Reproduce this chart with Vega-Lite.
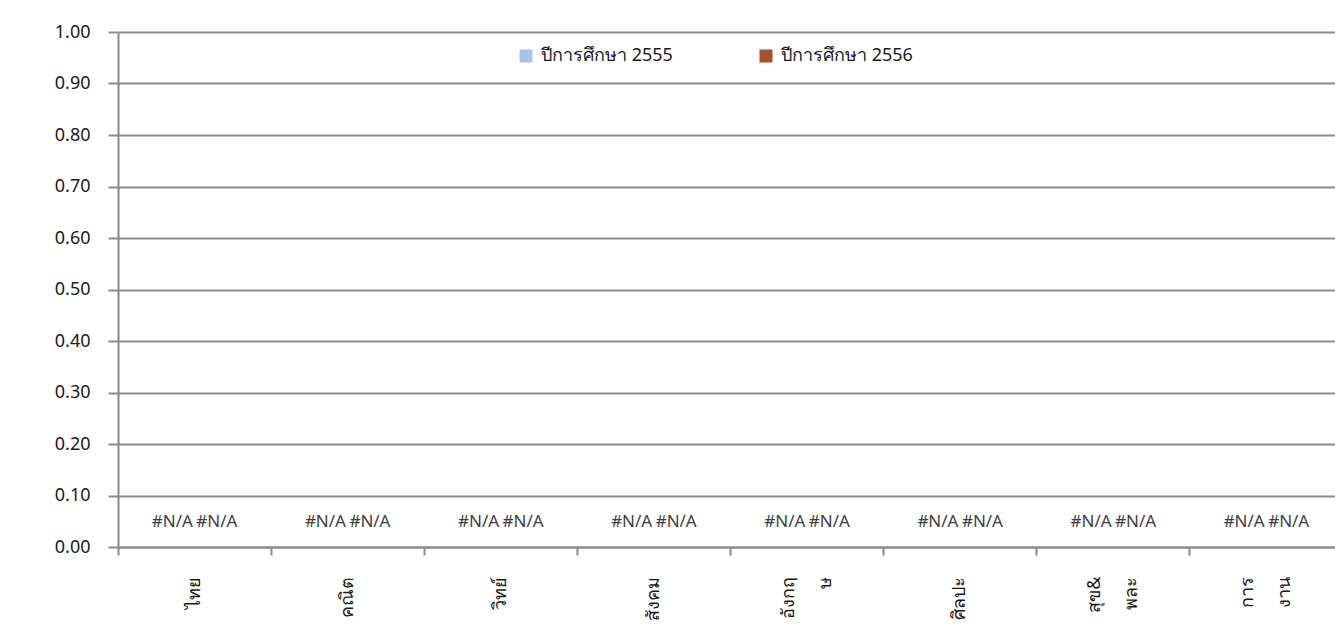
{
  "$schema": "https://vega.github.io/schema/vega-lite/v6.json",
  "autosize": {"type": "none"},
  "width": 1217,
  "height": 515,
  "padding": {"left": 118, "top": 32, "right": 0, "bottom": 91},
  "background": "white",
  "config": {
    "view": {"stroke": null},
    "font": "Noto Sans",
    "axis": {"labelFont": "Noto Sans", "labelColor": "#1a1a1a", "domainColor": "#8a8a8a", "tickColor": "#8a8a8a", "gridColor": "#8a8a8a"}
  },
  "data": {
    "values": [
      {"subject": "ไทย", "series": "ปีการศึกษา 2555", "value": null, "label": "#N/A"},
      {"subject": "ไทย", "series": "ปีการศึกษา 2556", "value": null, "label": "#N/A"},
      {"subject": "คณิต", "series": "ปีการศึกษา 2555", "value": null, "label": "#N/A"},
      {"subject": "คณิต", "series": "ปีการศึกษา 2556", "value": null, "label": "#N/A"},
      {"subject": "วิทย์", "series": "ปีการศึกษา 2555", "value": null, "label": "#N/A"},
      {"subject": "วิทย์", "series": "ปีการศึกษา 2556", "value": null, "label": "#N/A"},
      {"subject": "สังคม", "series": "ปีการศึกษา 2555", "value": null, "label": "#N/A"},
      {"subject": "สังคม", "series": "ปีการศึกษา 2556", "value": null, "label": "#N/A"},
      {"subject": "อังกฤษ", "series": "ปีการศึกษา 2555", "value": null, "label": "#N/A"},
      {"subject": "อังกฤษ", "series": "ปีการศึกษา 2556", "value": null, "label": "#N/A"},
      {"subject": "ศิลปะ", "series": "ปีการศึกษา 2555", "value": null, "label": "#N/A"},
      {"subject": "ศิลปะ", "series": "ปีการศึกษา 2556", "value": null, "label": "#N/A"},
      {"subject": "สุข& พละ", "series": "ปีการศึกษา 2555", "value": null, "label": "#N/A"},
      {"subject": "สุข& พละ", "series": "ปีการศึกษา 2556", "value": null, "label": "#N/A"},
      {"subject": "การ งาน", "series": "ปีการศึกษา 2555", "value": null, "label": "#N/A"},
      {"subject": "การ งาน", "series": "ปีการศึกษา 2556", "value": null, "label": "#N/A"}
    ]
  },
  "encoding": {
    "x": {
      "field": "subject",
      "type": "nominal",
      "sort": null,
      "scale": {"range": [0, 1225], "paddingInner": 0, "paddingOuter": 0},
      "axis": {
        "title": null,
        "labelAngle": -90,
        "labelFontSize": 18,
        "labelPadding": 21,
        "labelLineHeight": 37,
        "labelExpr": "datum.label == 'อังกฤษ' ? ['อังกฤ', 'ษ'] : split(datum.label, ' ')",
        "labelOffset": {"condition": {"test": "datum.value == 'อังกฤษ' || datum.value == 'สุข& พละ' || datum.value == 'การ งาน'", "value": -18}, "value": 0},
        "bandPosition": 0,
        "tickSize": 8,
        "tickWidth": 2,
        "domainWidth": 2,
        "grid": false
      }
    },
    "xOffset": {
      "field": "series",
      "type": "nominal",
      "scale": {"paddingInner": 0, "paddingOuter": 0.72}
    }
  },
  "layer": [
    {
      "mark": {"type": "bar"},
      "encoding": {
        "y": {
          "field": "value",
          "type": "quantitative",
          "scale": {"domain": [0, 1], "nice": false},
          "axis": {
            "title": null,
            "values": [0, 0.1, 0.2, 0.3, 0.4, 0.5, 0.6, 0.7, 0.8, 0.9, 1.0],
            "format": ".2f",
            "labelFontSize": 18,
            "labelPadding": 18,
            "tickSize": 10,
            "tickWidth": 2,
            "domainWidth": 2,
            "gridWidth": 2
          }
        },
        "color": {
          "field": "series",
          "type": "nominal",
          "scale": {"domain": ["ปีการศึกษา 2555", "ปีการศึกษา 2556"], "range": ["#a9c4e8", "#a5532a"]},
          "legend": {
            "title": null,
            "orient": "none",
            "legendX": 399,
            "legendY": 15,
            "direction": "horizontal",
            "symbolType": "square",
            "symbolSize": 169,
            "symbolStrokeWidth": 0,
            "labelFontSize": 18,
            "labelFont": "Noto Sans",
            "labelColor": "#1a1a1a",
            "labelOffset": 6,
            "columnPadding": 84
          }
        }
      }
    },
    {
      "mark": {"type": "text", "fontSize": 17, "color": "#404040", "dy": -25},
      "encoding": {
        "y": {"datum": 0},
        "text": {"field": "label"}
      }
    }
  ]
}
